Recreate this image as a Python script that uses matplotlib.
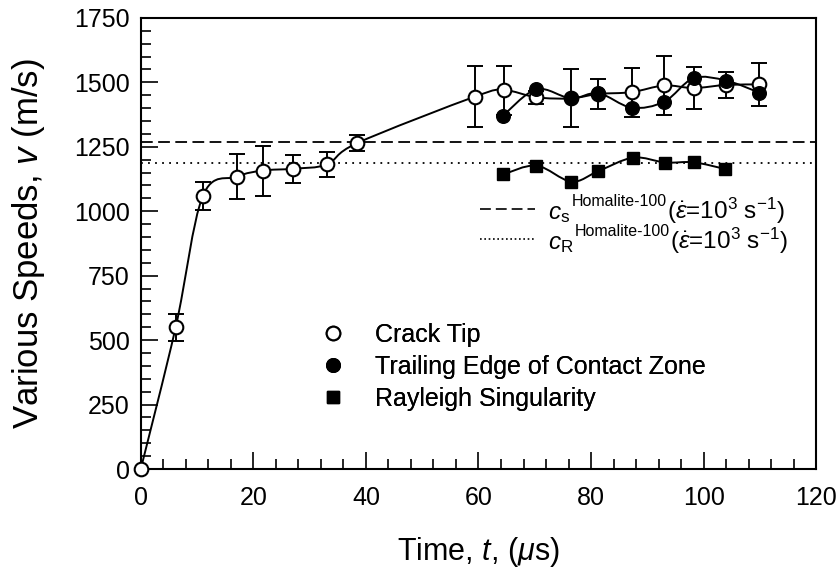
import numpy as np
import matplotlib
matplotlib.use("Agg")
import matplotlib.pyplot as plt
from matplotlib.path import Path
from matplotlib.patches import PathPatch
from matplotlib.lines import Line2D

plt.rcParams['font.family'] = ['Liberation Sans', 'DejaVu Sans']
plt.rcParams['mathtext.fontset'] = 'custom'
plt.rcParams['mathtext.rm'] = 'Liberation Sans'
plt.rcParams['mathtext.it'] = 'Liberation Sans:italic'
plt.rcParams['mathtext.bf'] = 'Liberation Sans:bold'

# crack tip (open circles, with error bars)
t_tip = [0, 6.2, 11.0, 17.1, 21.7, 27.1, 33.1, 38.5, 59.4, 64.5, 70.3, 76.4, 81.3, 87.2, 93.0, 98.2, 104.0, 109.9]
v_tip = [0, 550, 1058, 1134, 1158, 1165, 1182, 1265, 1445, 1470, 1442, 1438, 1455, 1462, 1488, 1478, 1490, 1492]
err_tip = [0, 53, 55, 88, 97, 54, 49, 31, 119, 95, 25, 112, 58, 95, 115, 82, 52, 83]

# trailing edge of contact zone (filled circles)
t_trail = [64.3, 70.3, 76.4, 81.3, 87.2, 93.0, 98.2, 104.0, 109.9]
v_trail = [1370, 1473, 1438, 1458, 1402, 1425, 1516, 1507, 1460]

# rayleigh singularity (filled squares)
t_ray = [64.4, 70.3, 76.5, 81.3, 87.5, 93.2, 98.2, 103.8]
v_ray = [1143, 1177, 1115, 1156, 1208, 1189, 1190, 1164]

c_s = 1269
c_R = 1186
wave_subs = ['s', 'R']


def smooth_path(x, y):
    # catmull-rom through the points, drawn as cubic bezier segments
    p = np.column_stack([np.asarray(x, float), np.asarray(y, float)])
    verts = [p[0]]
    codes = [Path.MOVETO]
    n = len(p)
    for i in range(n - 1):
        p0 = p[i - 1] if i > 0 else p[i]
        p1 = p[i]
        p2 = p[i + 1]
        p3 = p[i + 2] if i + 2 < n else p[i + 1]
        verts += [p1 + (p2 - p0) / 6.0, p2 - (p3 - p1) / 6.0, p2]
        codes += [Path.CURVE4] * 3
    return Path(verts, codes)


fig = plt.figure(figsize=(8.38, 5.71), dpi=100)
ax = fig.add_axes([0.168, 0.1786, 0.806, 0.79])

dash = (0, (6.5, 3))
dot = (0, (1, 2.9))
ax.axhline(c_s, color='black', lw=1.3, ls=dash, zorder=1)
ax.axhline(c_R, color='black', lw=1.3, ls=dot, zorder=1)

for xs, ys in [(t_tip, v_tip), (t_trail, v_trail), (t_ray, v_ray)]:
    ax.add_patch(PathPatch(smooth_path(xs, ys), fill=False, lw=1.4, color='black', zorder=2))

ax.errorbar(t_tip, v_tip, yerr=err_tip, fmt='none', ecolor='black', elinewidth=1.4,
            capsize=5.8, capthick=1.4, zorder=3)
ax.plot(t_tip, v_tip, 'o', ms=9.8, mfc='white', mec='black', mew=1.5, ls='none', zorder=4, clip_on=False)
ax.plot(t_trail, v_trail, 'o', ms=9.8, mfc='black', mec='black', ls='none', zorder=5)
ax.plot(t_ray, v_ray, 's', ms=8.6, mfc='black', mec='black', ls='none', zorder=5)

ax.set_xlim(0, 120)
ax.set_ylim(0, 1750)
ax.set_xticks(np.arange(0, 121, 20))
ax.set_xticks(np.arange(0, 121, 4), minor=True)
ax.set_yticks(np.arange(0, 1751, 250))
ax.set_yticks(np.arange(0, 1751, 50), minor=True)
ax.tick_params(which='both', direction='in', width=1.2, labelsize=18)
ax.tick_params(which='major', length=12)
ax.tick_params(which='minor', length=7)
ax.tick_params(axis='x', pad=12)
ax.tick_params(axis='y', pad=8)
for sp in ax.spines.values():
    sp.set_linewidth(1.5)
ax.set_xlabel('Time, $t$, ($\\mu$s)', fontsize=22, labelpad=18)
ax.set_ylabel('Various Speeds, $v$ (m/s)', fontsize=25, labelpad=19)

h1 = [Line2D([], [], marker='o', ms=9.8, mfc='white', mec='black', mew=1.5, ls='none'),
      Line2D([], [], marker='o', ms=9.8, mfc='black', mec='black', ls='none'),
      Line2D([], [], marker='s', ms=8.6, mfc='black', mec='black', ls='none')]
leg1 = ax.legend(h1, ['Crack Tip', 'Trailing Edge of Contact Zone', 'Rayleigh Singularity'],
                 loc='upper left', bbox_to_anchor=(0.247, 0.352), frameon=False, fontsize=18,
                 handlelength=1.0, handletextpad=1.2, labelspacing=0.32, borderpad=0)
ax.add_artist(leg1)

# second key: line samples plus composed labels (small superscript after subscript)
renderer = fig.canvas.get_renderer()
axw = ax.bbox.width
axh = ax.bbox.height
rows_y = [0.555, 0.488]
for sub, ls, yb in zip(wave_subs, [dash, (0, (1, 1.6))], rows_y):
    ax.add_line(Line2D([0.502, 0.584], [yb + 0.021, yb + 0.021], color='black', lw=1.2,
                       ls=ls, transform=ax.transAxes))
    x0 = 0.603
    t1 = ax.text(x0, yb, '$c_{\\mathrm{%s}}$' % sub, transform=ax.transAxes,
                 fontsize=17.5, va='baseline', ha='left')
    x1 = x0 + t1.get_window_extent(renderer).width / axw + 0.002
    t2 = ax.text(x1, yb + 12.5 / axh, 'Homalite-100', transform=ax.transAxes,
                 fontsize=11.5, va='baseline', ha='left')
    x2 = x1 + t2.get_window_extent(renderer).width / axw
    ax.text(x2, yb, '($\\dot{\\varepsilon}$=10$^3$ s$^{\\mathrm{-1}}$)', transform=ax.transAxes,
            fontsize=17.5, va='baseline', ha='left')

fig.savefig('out.png', dpi=100)
